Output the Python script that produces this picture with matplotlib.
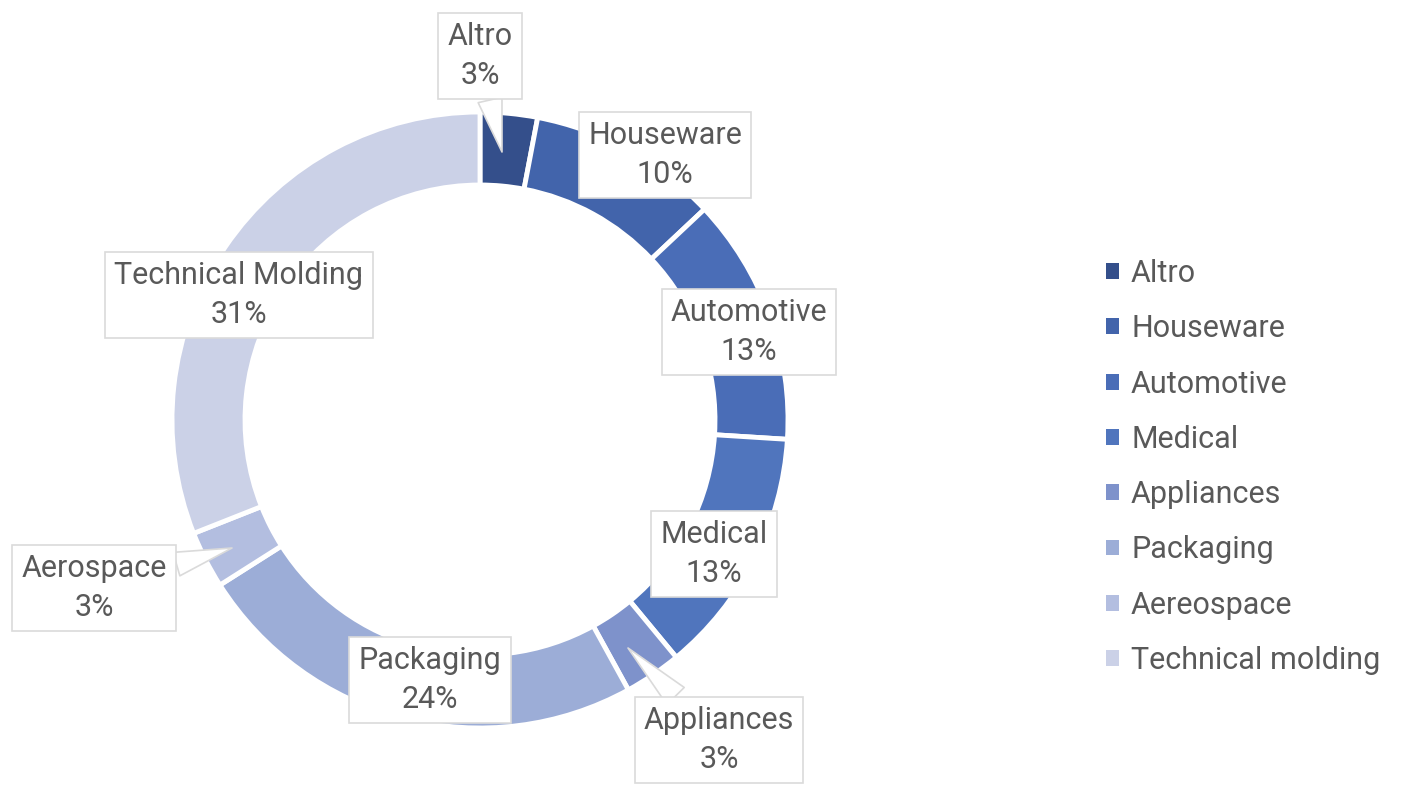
import matplotlib
matplotlib.use("Agg")
import matplotlib.pyplot as plt
from matplotlib.patches import Patch

# ---- data ----
categories = ["Altro", "Houseware", "Automotive", "Medical", "Appliances",
              "Packaging", "Aerospace", "Technical Molding"]
legend_labels = ["Altro", "Houseware", "Automotive", "Medical", "Appliances",
                 "Packaging", "Aereospace", "Technical molding"]
values = [3, 10, 13, 13, 3, 24, 3, 31]

# ---- style ----
colors = ["#344F8B", "#4264AB", "#4A6DB7", "#5075BD", "#7E92CB",
          "#9CADD7", "#B3BEE0", "#CBD1E7"]
text_color = "#595959"
box_edge = "#DADADA"
plt.rcParams['font.family'] = ['Roboto', 'DejaVu Sans']

W, H = 1410, 785
fig = plt.figure(figsize=(W / 100, H / 100), dpi=100)
ax = fig.add_axes([0, 0, 1, 1])

cx, cy, R = 480, H - 420, 308
wedges, _ = ax.pie(values, colors=colors, startangle=90, counterclock=False,
                   center=(cx, cy), radius=R, frame=True,
                   wedgeprops=dict(width=73, edgecolor='white', linewidth=3.5))
ax.set_xlim(0, W)
ax.set_ylim(0, H)
ax.set_aspect('equal')
ax.axis('off')

# label box centres (pixel coords, y from top)
label_pos = [(480, 56), (665, 155), (749, 332), (714, 554), (719, 740),
             (430, 680), (94, 588), (239, 295)]
# callout tips for the small slices
tips = {0: (502, 152), 4: (628, 648), 6: (232, 548)}

fs = 22
for i, (name, v) in enumerate(zip(categories, values)):
    x, y = label_pos[i]
    bbox = dict(boxstyle="square,pad=0.3", fc="white", ec=box_edge, lw=1.2)
    if i in tips:
        tx, ty = tips[i]
        ax.annotate(f"{name}\n{v}%", xy=(tx, H - ty), xytext=(x, H - y),
                    ha='center', va='center', fontsize=fs, color=text_color,
                    linespacing=1.45, bbox=bbox, zorder=5,
                    arrowprops=dict(arrowstyle="wedge,tail_width=0.8,shrink_factor=0.5",
                                    fc="white", ec=box_edge, lw=1.2,
                                    shrinkA=0, shrinkB=0))
    else:
        ax.text(x, H - y, f"{name}\n{v}%", ha='center', va='center',
                fontsize=fs, color=text_color, linespacing=1.45, bbox=bbox,
                zorder=5)

handles = [Patch(facecolor=c, edgecolor='none') for c in colors]
leg = fig.legend(handles, legend_labels, loc='upper left',
                 bbox_to_anchor=(1106 / W, 1 - 259 / H), frameon=False,
                 fontsize=fs, handlelength=0.42, handleheight=0.42,
                 handletextpad=0.4, labelspacing=0.86, borderpad=0,
                 borderaxespad=0)
for t in leg.get_texts():
    t.set_color(text_color)

fig.savefig("out.png", dpi=100, facecolor='white')
